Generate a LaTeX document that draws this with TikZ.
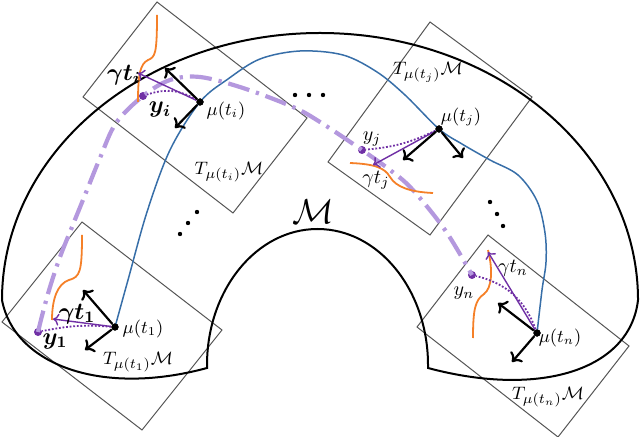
\documentclass[tikz,border=0pt]{standalone}
\usepackage{amsmath,bm}
\usetikzlibrary{arrows.meta}
\definecolor{morange}{RGB}{245,128,40}
\definecolor{mblue}{RGB}{55,110,168}
\definecolor{mlav}{RGB}{180,152,222}
\definecolor{mpurple}{RGB}{112,48,165}
\definecolor{mgray}{RGB}{85,85,85}
\begin{document}
\begin{tikzpicture}[x=0.5pt,y=-0.5pt,
  manif/.style={line width=1pt, black},
  tplane/.style={draw=mgray, line width=0.5pt},
  geo/.style={draw=mblue, line width=0.75pt},
  traj/.style={draw=mlav, line width=2.1pt, dash pattern=on 11pt off 3.5pt on 1.6pt off 3.5pt},
  fib/.style={draw=morange, line width=0.9pt},
  basis/.style={line width=1.1pt, -{Computer Modern Rightarrow[length=4pt,width=8pt]}},
  gam/.style={draw=mpurple, line width=0.7pt, -{Computer Modern Rightarrow[length=3pt,width=6pt]}},
  obsline/.style={draw=mpurple, line width=0.9pt, dash pattern=on 0.9pt off 0.9pt},
  mupt/.style={circle, fill=black, inner sep=0pt, minimum size=3.6pt},
  obs/.style={circle, fill=mpurple, inner sep=0pt, minimum size=4pt},
  lbl/.style={inner sep=0pt, font=\fontsize{10}{12}\selectfont},
  blbl/.style={inner sep=0pt, font=\fontsize{11.5}{13}\selectfont},
  mulbl/.style={inner sep=0pt, font=\fontsize{9}{11}\selectfont},
  tlbl/.style={inner sep=0pt, font=\fontsize{9.5}{11}\selectfont},
  ell/.style={circle, fill=black, inner sep=0pt, minimum size=2.2pt}]
\useasboundingbox (0,0) rectangle (640,437);

% tangent planes
\draw[tplane] (82,222) -- (2,322) -- (142,430) -- (222,330) -- cycle;
\draw[tplane] (157,2) -- (83,97) -- (233,213) -- (307,118) -- cycle;
\draw[tplane] (430,22) -- (328,162) -- (430,235) -- (532,97) -- cycle;
\draw[tplane] (488,235) -- (417,327) -- (558,437) -- (629,346) -- cycle;

% manifold
\draw[manif] (2,300) arc[start angle=180, end angle=360, x radius=318, y radius=267]
  .. controls (630,370) and (540,398) .. (428,368)
  -- (428,365) arc[start angle=0, end angle=-180, x radius=110.5, y radius=136]
  -- (207,368) .. controls (100,397) and (14,364) .. (2,300) -- cycle;

% points on geodesic
\node[mupt] (m1) at (115,327) {};
\node[mupt] (mi) at (200,102) {};
\node[mupt] (mj) at (439,129) {};
\node[mupt] (mn) at (537,333) {};

% observations
\node[obs] (y1) at (38,332) {};
\node[obs] (yi) at (143,96) {};
\node[obs] (yj) at (362,150) {};
\node[obs] (yn) at (472,275) {};

% geodesic
\draw[geo] plot[smooth, tension=0.55] coordinates {(m1.center) (128,280) (147,212) (170,150) (mi.center) (228,79) (260,59) (300,51) (343,55) (377,72) (405,95) (mj.center) (462,144) (490,160) (518,175) (537,201) (545,233) (546,262) (542,290) (mn.center)};

% trajectory of observations
\draw[traj] plot[smooth, tension=0.55] coordinates {(y1.center) (43,312) (50,287) (60,257) (72,227) (85,195) (100,158) (116,123) (yi.center) (170,80) (200,77) (243,88) (293,107) (320,122) (yj.center) (390,170) (412,189) (445,230) (yn.center)};

% fibres
\draw[fib] (82,235) .. controls (82,272) and (80,277) .. (69,280) .. controls (57,284) and (52,300) .. (52,320);
\draw[fib] (157,15) .. controls (157,55) and (155,57) .. (148,60) .. controls (140,64) and (138,75) .. (138,102);
\draw[fib] (350,163) .. controls (375,164) and (385,168) .. (390,177) .. controls (396,187) and (410,192) .. (433,193);
\draw[fib] (488,250) .. controls (493,270) and (492,288) .. (484,294) .. controls (475,300) and (473,310) .. (473,338);

% gamma endpoints and basis endpoints
\coordinate (g1) at (53,319);
\coordinate (gi) at (138,73);
\coordinate (gj) at (373,165);
\coordinate (gn) at (488,252);
\coordinate (b1a) at (83,290);
\coordinate (b1b) at (85,350);
\coordinate (bia) at (165,68);
\coordinate (bib) at (175,128);
\coordinate (bja) at (403,160);
\coordinate (bjb) at (463,158);
\coordinate (bna) at (498,303);
\coordinate (bnb) at (512,362);

% dotted links
\draw[obsline] (m1) to[bend right=8] (y1);
\draw[obsline] (mi) to[bend right=25] (yi);
\draw[obsline] (mj) to[bend left=10] (yj);
\draw[obsline] (mn) to[bend right=28] (yn);

% gamma arrows
\draw[gam] (m1) -- (g1);
\draw[gam] (mi) -- (gi);
\draw[gam] (mj) -- (gj);
\draw[gam] (mn) -- (gn);

% basis arrows
\draw[basis] (m1) -- (b1a);
\draw[basis] (m1) -- (b1b);
\draw[basis] (mi) -- (bia);
\draw[basis] (mi) -- (bib);
\draw[basis] (mj) -- (bja);
\draw[basis] (mj) -- (bjb);
\draw[basis] (mn) -- (bna);
\draw[basis] (mn) -- (bnb);

% redraw points on top
\node[mupt] at (m1) {};
\node[mupt] at (mi) {};
\node[mupt] at (mj) {};
\node[mupt] at (mn) {};

% labels
\node[blbl] (Lg1) at (77,314) {$\bm{\gamma t_1}$};
\node[blbl] (Ly1) at (55,341) {$\bm{y_1}$};
\node[mulbl] (Lm1) at (143,329) {$\mu(t_1)$};
\node[tlbl] (LT1) at (138,362) {$T_{\mu(t_1)}\mathcal{M}$};

\node[blbl] (Lgi) at (124,75) {$\bm{\gamma t_i}$};
\node[blbl] (Lyi) at (160,110) {$\bm{y_i}$};
\node[mulbl] (Lmi) at (226,111) {$\mu(t_i)$};
\node[tlbl] (LTi) at (229,172) {$T_{\mu(t_i)}\mathcal{M}$};

\node[tlbl] (LTj) at (428,72) {$T_{\mu(t_j)}\mathcal{M}$};
\node[mulbl] (Lmj) at (461,117) {$\mu(t_j)$};
\node[lbl] (Lyj) at (372,139) {$y_j$};
\node[lbl] (Lgj) at (376,180) {$\gamma t_j$};

\node[lbl] (Lgn) at (513,268) {$\gamma t_n$};
\node[lbl] (Lyn) at (464,293) {$y_n$};
\node[mulbl] (Lmn) at (560,338) {$\mu(t_n)$};
\node[tlbl] (LTn) at (548,397) {$T_{\mu(t_n)}\mathcal{M}$};

\node[inner sep=0pt, font=\fontsize{16}{18}\selectfont] (LM) at (313,212) {$\mathcal{M}$};

% ellipsis dots
\node[ell] (e1) at (295,95) {};
\node[ell] (e2) at (309,95) {};
\node[ell] (e3) at (323,95) {};
\node[ell] (e4) at (197,212) {};
\node[ell] (e5) at (188,223) {};
\node[ell] (e6) at (180,234) {};
\node[ell] (e7) at (490,202) {};
\node[ell] (e8) at (497,214) {};
\node[ell] (e9) at (503,226) {};
\end{tikzpicture}
\end{document}
